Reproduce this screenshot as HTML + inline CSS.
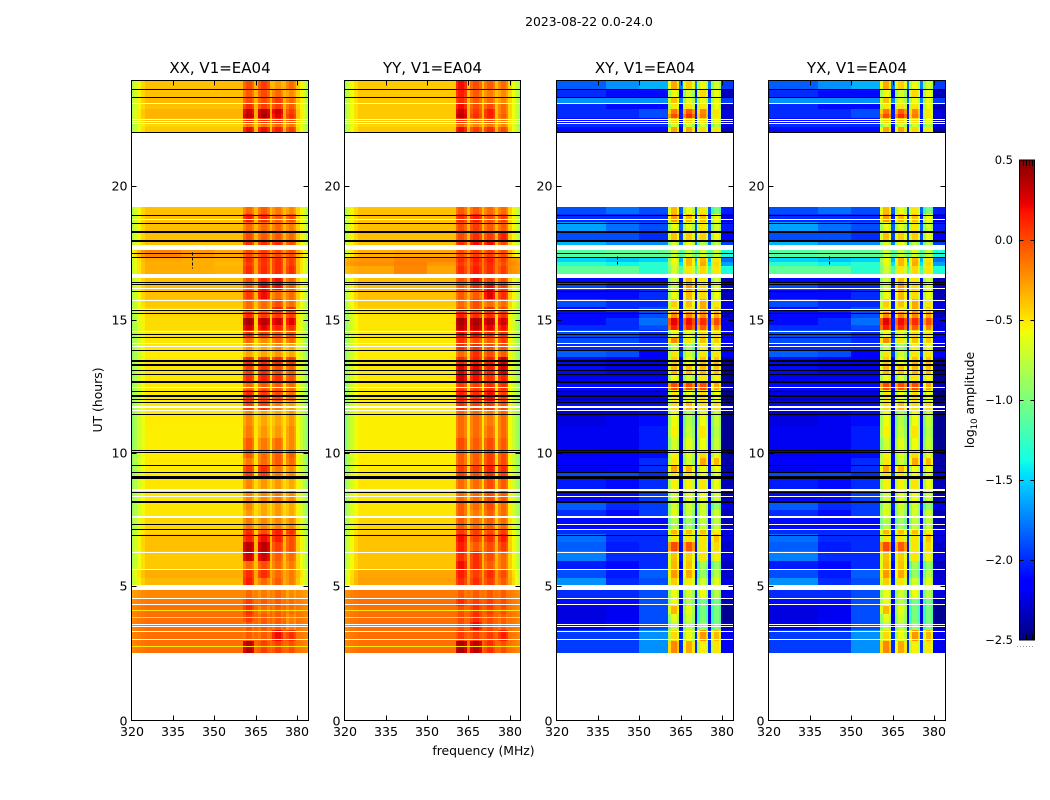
<!DOCTYPE html>
<html>
<head>
<meta charset="utf-8">
<title>2023-08-22 0.0-24.0</title>
<style>
html,body{margin:0;padding:0;background:#fff;width:1050px;height:800px;overflow:hidden}
svg{display:block;font-family:"DejaVu Sans","Liberation Sans",sans-serif}
text{fill:#000}
</style>
</head>
<body>
<svg id="fig" width="1050" height="800" viewBox="0 0 1050 800" xmlns="http://www.w3.org/2000/svg">
<rect x="0" y="0" width="1050" height="800" fill="#fff"/>
<text x="589" y="26" font-size="12.4" text-anchor="middle">2023-08-22 0.0-24.0</text>
<text x="483.5" y="755" font-size="12.4" text-anchor="middle">frequency (MHz)</text>
<text transform="translate(102,400) rotate(-90)" font-size="12.4" text-anchor="middle">UT (hours)</text>
<text transform="translate(974,400) rotate(-90)" font-size="12.4" text-anchor="middle">log<tspan font-size="8.5" dy="3">10</tspan><tspan dy="-3"> amplitude</tspan></text>
</svg>
<script>
// Time-row boundaries in UT hours, top to bottom
const rowEdgesUT = [24,23.7,23.4,23.175,22.95,22.76,22.58,22.39,22.24,22.05,19.24,18.98,18.68,18.3,18,17.78,17.63,17.4,17.21,17.03,16.73,16.61,16.39,16.13,15.79,15.49,15.3,15.08,14.85,14.63,14.4,14.14,13.91,13.65,13.35,13.01,12.68,12.38,12,11.63,11.06,10.61,10.13,9.83,9.56,9.3,9.08,8.63,8.18,7.88,7.61,7.2,6.98,6.68,6.34,6,5.7,5.36,5.1,4.88,4.58,4.28,3.98,3.68,3.38,3,2.55];
// Frequency column boundaries in MHz
const freqEdgesMHz = [320,321,322,323.5,325,338,350,360.4,361.4,363.4,364.4,365.8,366.8,369,370,370.9,371.9,373.9,374.9,375.8,376.8,378.6,379.6,381,382,383,384];
// Which reading of a row each frequency column takes (0-2 low band, 3-6 the four high-frequency patches)
const columnBand = [0,0,0,0,0,1,2,3,3,3,1,4,4,4,1,5,5,5,1,6,6,6,1,1,1,1];
// Log-amplitude shift per column
const parallelColumnShift = [-.42,-.3,-.18,-.07,0,0,0,-.1,0,-.1,.03,-.1,0,-.1,.03,-.1,0,-.1,.03,-.1,0,-.1,-.04,-.18,-.3,-.42];
const crossColumnShift = [0,0,0,0,0,0,0,-.28,0,-.2,-.05,-.28,0,-.2,-.05,-.28,0,-.2,-.05,-.28,0,-.2,-.25,-.25,-.25,-.25];
// log10 amplitude per row: low-left, low-mid, low-right, patch 1-4
const xxValues = [
[-.38,-.38,-.36,0,.05,-.25,-.1],[-.38,-.38,-.38,-.05,0,-.1,-.2],[-.36,-.36,-.36,0,0,.05,-.1],[-.38,-.38,-.38,.1,.05,.05,-.05],[-.34,-.34,-.34,.3,.35,.3,.05],[-.34,-.34,-.34,.35,.4,.25,.1],[-.38,-.38,-.38,.1,.1,.1,0],[-.45,-.45,-.45,-.15,-.15,-.1,-.15],[-.41,-.41,-.41,.2,.2,.15,.05],
null,
[-.38,-.38,-.38,-.1,-.05,-.15,-.2],[-.38,-.38,-.38,.15,.1,-.05,0],[-.38,-.38,-.38,-.1,-.1,-.1,-.15],[-.38,-.38,-.38,0,-.05,-.05,-.1],[-.38,-.38,-.38,.1,.1,.1,0],
null,
[-.18,-.25,-.3,0,.05,0,0],[-.3,-.32,-.34,.1,.1,.1,.05],[-.32,-.32,-.36,.05,.08,.1,.05],[-.32,-.32,-.34,.1,.1,.1,.1],
null,
[-.38,-.38,-.38,0,.15,.2,-.05],[-.38,-.38,-.38,-.05,.2,.2,-.05],[-.38,-.38,-.38,.05,.2,-.1,-.1],[-.41,-.41,-.41,-.1,-.1,0,-.1],[-.45,-.45,-.45,-.1,-.1,.15,.1],[-.45,-.45,-.45,.1,.05,.05,.05],[-.47,-.47,-.47,.4,.35,.3,.25],[-.47,-.47,-.47,.3,.25,.15,.1],[-.5,-.5,-.5,.1,.05,0,0],[-.5,-.5,-.5,-.1,-.2,-.1,-.1],[-.5,-.5,-.5,-.25,-.3,-.2,-.3],[-.52,-.52,-.52,-.3,-.3,-.25,-.3],[-.5,-.5,-.5,.1,.1,.1,.05],[-.5,-.5,-.5,.05,.1,0,-.05],[-.5,-.5,-.5,.1,.15,.1,0],[-.51,-.51,-.51,-.1,-.05,-.05,-.1],[-.51,-.51,-.51,.1,.05,0,-.1],[-.51,-.51,-.51,.05,.05,-.15,-.25],[-.52,-.52,-.52,-.2,-.3,-.3,-.25],[-.53,-.53,-.53,-.15,-.25,-.25,-.2],[-.53,-.53,-.53,-.05,-.15,-.1,-.2],[-.52,-.52,-.52,-.05,-.1,-.05,-.05],[-.51,-.51,-.51,-.15,-.1,-.05,-.1],[-.52,-.52,-.52,.05,.1,-.15,-.2],[-.52,-.52,-.52,.05,.05,-.15,-.2],[-.5,-.5,-.5,-.2,-.25,-.25,-.3],[-.5,-.5,-.5,-.2,-.2,-.15,-.2],[-.5,-.5,-.5,-.2,-.3,-.25,-.3],[-.5,-.5,-.5,-.25,-.3,-.25,-.3],[-.45,-.45,-.45,-.15,-.2,-.2,-.2],[-.45,-.45,-.45,.1,0,.15,.1],[-.38,-.38,-.38,.15,.2,.15,0],[-.38,-.38,-.38,.35,.35,.05,0],[-.41,-.41,-.41,.3,.3,-.05,-.1],[-.41,-.41,-.41,-.1,0,-.1,-.15],[-.32,-.32,-.32,.1,.1,-.1,-.15],[-.36,-.36,-.36,.15,-.1,-.05,-.15],
null,
[-.2,-.2,-.2,-.1,-.15,-.1,-.2],[-.15,-.15,-.15,.05,-.05,-.05,-.1],[-.12,-.12,-.12,.1,-.1,-.05,-.1],[-.12,-.12,-.12,.05,-.05,-.05,-.15],[-.12,-.12,-.12,-.05,-.05,-.05,-.15],[-.12,-.12,-.12,-.05,-.05,.2,.1],[-.12,-.12,-.12,.35,.05,.05,0]
];
const yyValues = [
[-.41,-.41,-.41,.2,0,-.05,-.1],[-.41,-.41,-.41,.15,-.05,-.15,-.2],[-.41,-.41,-.41,.1,-.05,-.1,-.2],[-.41,-.41,-.41,.2,0,0,-.1],[-.41,-.41,-.41,.3,.05,.15,-.1],[-.41,-.41,-.41,.35,.1,.15,-.05],[-.41,-.41,-.41,.1,-.1,0,-.15],[-.45,-.45,-.45,-.1,-.2,-.15,-.2],[-.41,-.41,-.41,.2,.05,.1,0],
null,
[-.38,-.38,-.38,-.05,-.05,-.1,-.1],[-.38,-.38,-.38,.1,.15,0,.05],[-.38,-.38,-.38,0,.05,-.05,-.05],[-.38,-.38,-.38,0,.1,.05,.15],[-.38,-.38,-.38,.1,.2,.2,0],
null,
[-.33,-.3,-.3,0,.05,.05,0],[-.25,-.2,-.2,.1,.15,.15,.05],[-.22,-.18,-.25,.05,.1,.1,0],[-.3,-.2,-.3,.1,.15,.1,.05],
null,
[-.38,-.38,-.38,0,.2,.05,0],[-.38,-.38,-.38,-.05,.1,.2,.05],[-.38,-.38,-.38,-.05,-.05,.25,.1],[-.41,-.41,-.41,-.1,0,-.1,-.1],[-.45,-.45,-.45,-.05,0,.1,0],[-.5,-.5,-.5,.15,.1,.1,.1],[-.5,-.5,-.5,.4,.4,.35,.3],[-.5,-.5,-.5,.35,.35,.25,.2],[-.5,-.5,-.5,.2,.2,.1,.1],[-.51,-.51,-.51,.1,0,-.05,.05],[-.51,-.51,-.51,.1,.1,0,0],[-.52,-.52,-.52,-.1,.1,0,-.05],[-.51,-.51,-.51,.1,.15,.15,.3],[-.51,-.51,-.51,.25,.25,.15,.3],[-.51,-.51,-.51,.3,.2,.1,.15],[-.52,-.52,-.52,.05,.05,.1,.1],[-.52,-.52,-.52,.15,.1,.2,.05],[-.52,-.52,-.52,.1,.05,.05,0],[-.53,-.53,-.53,-.1,-.1,-.15,-.1],[-.53,-.53,-.53,-.1,-.1,-.1,-.1],[-.53,-.53,-.53,0,-.05,0,-.05],[-.52,-.52,-.52,-.05,-.05,.05,0],[-.52,-.52,-.52,-.05,-.05,.05,0],[-.52,-.52,-.52,.05,.05,.15,.1],[-.52,-.52,-.52,.05,0,.1,.05],[-.5,-.5,-.5,-.1,-.1,0,-.05],[-.5,-.5,-.5,-.1,-.1,0,-.05],[-.5,-.5,-.5,-.05,-.1,0,-.1],[-.5,-.5,-.5,-.05,-.15,-.05,-.1],[-.45,-.45,-.45,-.05,-.1,-.05,-.1],[-.43,-.43,-.43,.05,.05,0,.05],[-.39,-.39,-.39,.2,.05,.1,.15],[-.39,-.39,-.39,.15,-.05,0,.05],[-.39,-.39,-.39,.1,.1,0,-.1],[-.39,-.39,-.39,.2,.1,-.05,-.1],[-.3,-.3,-.3,.15,.05,.1,0],[-.28,-.28,-.28,.1,.1,.05,-.05],
null,
[-.15,-.15,-.15,-.05,-.05,-.05,-.05],[-.12,-.12,-.12,.1,.05,.05,0],[-.12,-.12,-.12,0,.1,.05,0],[-.12,-.12,-.12,0,.1,0,-.05],[-.12,-.12,-.12,0,.2,0,-.05],[-.12,-.12,-.12,.05,.05,.05,.15],[-.12,-.12,-.12,.4,.35,.1,0]
];
const xyValues = [
[-1.85,-1.7,-1.6,-.3,-.42,-.58,-.68],[-2,-2.1,-2.1,-.58,-.68,-.46,-.58],[-1.7,-1.7,-1.7,-.38,-.62,-.58,-.58],[-2,-2.1,-2.1,-.5,-.5,-.5,-.58],[-2,-2,-1.9,-.15,-.05,-.2,-.5],[-2,-2,-1.9,0,.1,-.15,-.5],[-2.1,-2.1,-2.1,-.42,-.42,-.46,-.58],[-2,-2,-2,-.68,-.68,-.68,-.78],[-2.1,-2.1,-2.1,-.3,-.3,-.46,-.5],
null,
[-1.9,-1.8,-1.9,-.35,-.58,-.5,-1],[-2,-2,-2,-.25,-.35,-.38,-.58],[-1.65,-1.8,-1.9,-.58,-.62,-.5,-.68],[-1.9,-1.9,-2,-.38,-.42,-.42,-.58],[-1.6,-1.7,-1.7,-.68,-.58,-.78,-.78],
null,
[-1.15,-1.1,-1.1,-.72,-.72,-.68,-.72],[-1.5,-1.55,-1.5,-.58,-.35,-.35,-.5],[-1.3,-1.4,-1.3,-.62,-.35,-.3,-.46],[-1.1,-1.1,-1.3,-.68,-.5,-.46,-.5],
null,
[-2.1,-2.1,-2.1,-.68,-.35,-.5,-.68],[-1.9,-2,-2,-.68,-.25,-.46,-.62],[-2.1,-2.1,-2,-.58,-.35,-.46,-.58],[-1.9,-2,-2,-.42,-.38,-.3,-.5],[-2.1,-2,-1.9,-.5,-.5,-.3,-.42],[-2.1,-2.1,-1.9,-.2,-.2,-.2,-.3],[-2.1,-2,-1.8,.25,.2,.1,0],[-2,-2,-1.9,.15,.1,-.05,-.2],[-1.9,-1.9,-2,-.58,-.58,-.46,-.5],[-1.9,-1.9,-2,-.2,-.5,-.38,-.42],[-2,-2,-2,-.72,-.85,-.54,-.58],[-1.85,-1.9,-2.15,-.5,-.68,-.5,-.5],[-2.1,-2.15,-2.2,-.42,-.58,-.38,-.38],[-2.1,-2.2,-2.2,-.35,-.38,-.35,-.38],[-2.2,-2.2,-2.2,-.58,-.68,-.5,-.54],[-2.1,-2.1,-2.1,0,0,0,-.3],[-2.25,-2.25,-2.25,-.5,-.58,-.46,-.58],[-2.1,-2.1,-2.1,-.46,-.35,-.46,-.46],[-2.25,-2.2,-2.1,-.58,-.78,-.58,-.72],[-2.2,-2.2,-2.05,-.54,-.72,-.5,-.78],[-2.2,-2.2,-2.05,-.68,-.62,-.58,-.72],[-2.2,-2.15,-2.1,-.54,-.62,-.46,-.62],[-2.15,-2.15,-2,-.5,-.68,-.3,-.35],[-2.2,-2.15,-2,-.3,-.35,-.58,-.58],[-1.9,-1.9,-2,-.5,-.5,-.58,-.62],[-2.05,-2.1,-2,-.54,-.54,-.5,-.58],[-2.1,-2.1,-1.95,-.68,-.62,-.58,-.68],[-1.85,-2,-1.95,-.68,-.68,-.68,-.9],[-2,-2.1,-1.95,-.62,-.72,-.68,-.68],[-2.1,-2.1,-2.1,-.78,-.85,-.72,-.72],[-2,-2,-2,-.35,-.38,-.38,-.54],[-1.8,-2,-2,-.5,-.5,-.5,-.38],[-1.85,-2.05,-2,0,-.05,-.5,-.46],[-1.75,-2,-2,-.38,-.42,-.5,-.54],[-2.05,-2.1,-2,-.35,-.38,-.85,-.9],[-1.9,-2.05,-1.85,-.25,-.3,-.9,-.78],[-1.7,-2,-1.9,-.42,-.5,-.68,-.62],
null,
[-2,-2,-1.9,-.58,-.68,-.58,-.78],[-2.1,-2.1,-1.9,-.58,-.78,-1,-1],[-2.25,-2.2,-1.9,-.35,-.62,-1,-1],[-2.25,-2.2,-1.9,-.62,-.68,-1,-1],[-2.2,-2.1,-1.9,-.72,-.78,-.9,-1],[-1.95,-1.95,-1.7,-.46,-.58,-.25,-.35],[-1.95,-1.95,-1.7,-.2,-.3,-.54,-.5]
];
const yxValues = xyValues;
// Flagged (missing) integrations: [UT hours, duration hours]
const whiteFlags = [[23.16,.04],[22.55,.04],[22.47,.04],[22.39,.04],[18.81,.04],[17.84,.05],[16.23,.04],[15.77,.05],[15.45,.05],[14.61,.04],[14.15,.04],[14.04,.04],[12.5,.04],[11.75,.07],[11.63,.04],[8.65,.06],[8.41,.04],[7.62,.07],[6.33,.04],[5.69,.04],[4.58,.04],[4.38,.04],[3.63,.04],[3.54,.04],[3.36,.04],[3.04,.04]];
const blackFlags = [[23.69,.04],[23.4,.04],[22.07,.04],[18.96,.04],[18.66,.04],[18.31,.08],[18,.08],[17.52,.04],[17.4,.04],[16.46,.04],[16.38,.04],[16.11,.04],[15.38,.04],[15.29,.04],[14.49,.04],[14.39,.04],[13.91,.04],[13.5,.08],[13.35,.08],[13.15,.04],[13.01,.04],[12.69,.08],[12.36,.04],[12.16,.06],[12.04,.04],[11.93,.04],[11.51,.04],[10.14,.04],[10.06,.04],[9.57,.04],[9.31,.04],[9.18,.04],[9.1,.06],[8.58,.04],[8.18,.08],[6.96,.04]];
const parallelOnlyBlack = [[7.38,.04],[7.19,.04]];
const crossOnlyWhite = [[7.38,.04],[7.19,.04]];
const parallelBrightRows = [[4.15,.04],[3.89,.04],[2.8,.04]];
const parallelBrightLevel = -0.5;
// Short flagged channel runs: [panel index, MHz, UT start, UT end]
const channelSpikes = [[0,342,16.95,17.55],[2,342,17.1,17.4],[3,342,17.1,17.4]];
// Panels
const panelNames = ['XX, V1=EA04','YY, V1=EA04','XY, V1=EA04','YX, V1=EA04'];
const panelKeys = ['xx','yy','xy','yx'];
const panelValues = [xxValues,yyValues,xyValues,yxValues];
const panelLefts = [131.5,344.5,556.5,768.5];
const panelWidths = [177,176,177,177];
const freqTicks = [320,335,350,365,380];
const utTicks = [0,5,10,15,20];
// Colorbar
const colorbarTicks = [0.5,0,-0.5,-1,-1.5,-2,-2.5];
const colorbarTickLabels = ['0.5','0.0','\u22120.5','\u22121.0','\u22121.5','\u22122.0','\u22122.5'];

const svg = document.getElementById('fig');
const NS = 'http://www.w3.org/2000/svg';
const freqMin = 320, freqMax = 384, utMin = 0, utMax = 24, plotTop = 80.5, plotBottom = 720.5;
const vMin = -2.5, vMax = 0.5;
const yScale = ut => plotBottom - (ut - utMin) / (utMax - utMin) * (plotBottom - plotTop);
const xScale = (p, f) => panelLefts[p] + (f - freqMin) / (freqMax - freqMin) * panelWidths[p];

function seg(t, pts){
  for (let i = 1; i < pts.length; i++) {
    if (t <= pts[i][0]) {
      const a = pts[i-1], b = pts[i];
      return a[1] + (b[1]-a[1]) * (t-a[0]) / (b[0]-a[0]);
    }
  }
  return pts[pts.length-1][1];
}
function jet(v){
  const t = Math.max(0, Math.min(1, (v - vMin) / (vMax - vMin)));
  const r = seg(t, [[0,0],[.35,0],[.66,1],[.89,1],[1,.5]]);
  const g = seg(t, [[0,0],[.125,0],[.375,1],[.64,1],[.91,0],[1,0]]);
  const b = seg(t, [[0,.5],[.11,1],[.34,1],[.65,0],[1,0]]);
  return 'rgb(' + Math.round(r*255) + ',' + Math.round(g*255) + ',' + Math.round(b*255) + ')';
}
function make(tag, parent, attrs){
  const el = document.createElementNS(NS, tag);
  for (const k in attrs) el.setAttribute(k, attrs[k]);
  parent.appendChild(el);
  return el;
}

panelNames.forEach((title, p) => {
  const key = panelKeys[p];
  const values = panelValues[p];
  const parallel = p < 2;
  const shift = parallel ? parallelColumnShift : crossColumnShift;
  const left = panelLefts[p], width = panelWidths[p], right = left + width;

  const group = make('g', svg, {});
  
  

  const heat = make('g', group, {'shape-rendering': 'crispEdges'});
  
  

  values.forEach((row, r) => {
    if (!row) return;
    const y0 = Math.round(yScale(rowEdgesUT[r]));
    const y1 = Math.round(yScale(rowEdgesUT[r+1]));
    for (let c = 0; c < columnBand.length; c++) {
      const fLo = freqEdgesMHz[c], fHi = freqEdgesMHz[c+1];
      const x0 = Math.round(xScale(p, fLo));
      const x1 = Math.round(xScale(p, fHi));
      if (x1 <= x0) continue;
      const edge = parallel && (fHi <= 325 || fLo >= 379.6);
      const bright = row[1] > -0.25;
      const amount = shift[c] * (edge && bright ? 0.2 : 1);
      const cell = make('rect', heat, {x: x0, y: y0, width: x1 - x0, height: y1 - y0, fill: jet(row[columnBand[c]] + amount)});
      
      
    }
  });

  const drawFlags = (list, color, name) => {
    list.forEach(flag => {
      const h = Math.max(1, Math.round(flag[1] / (utMax - utMin) * (plotBottom - plotTop)));
      const line = make('rect', heat, {x: left, y: Math.round(yScale(flag[0])) - Math.floor(h / 2), width: width, height: h, fill: color});
      
      
    });
  };
  if (parallel) drawFlags(parallelBrightRows, jet(parallelBrightLevel), 'bright-row');
  drawFlags(whiteFlags, '#fff', 'white-flag-row');
  drawFlags(blackFlags, '#000', 'black-flag-row');
  if (parallel) drawFlags(parallelOnlyBlack, '#000', 'black-flag-row');
  else drawFlags(crossOnlyWhite, '#fff', 'white-flag-row');

  channelSpikes.filter(s => s[0] === p).forEach(s => {
    const spike = make('line', heat, {x1: Math.round(xScale(p, s[1])) + .5, x2: Math.round(xScale(p, s[1])) + .5, y1: yScale(s[3]), y2: yScale(s[2]), stroke: '#000', 'stroke-dasharray': '3 2'});
    
    
  });

  const frame = make('rect', group, {x: left, y: plotTop, width: width, height: plotBottom - plotTop, fill: 'none', stroke: '#000', 'stroke-width': 1, 'shape-rendering': 'crispEdges'});
  
  

  const heading = make('text', group, {x: left + width / 2, y: 73, 'font-size': 15, 'text-anchor': 'middle'});
  heading.textContent = title;
  
  

  freqTicks.forEach(f => {
    const x = Math.round(xScale(p, f)) + 0.5;
    if (f > freqMin) {
      const b = make('line', group, {x1: x, x2: x, y1: plotBottom, y2: plotBottom - 5, stroke: '#000', 'shape-rendering': 'crispEdges'});
      
      
      const t = make('line', group, {x1: x, x2: x, y1: plotTop, y2: plotTop + 5, stroke: '#000', 'shape-rendering': 'crispEdges'});
      
      
    }
    const label = make('text', group, {x: x - 0.5, y: 736, 'font-size': 12.6, 'text-anchor': 'middle'});
    label.textContent = String(f);
    
    
  });

  utTicks.forEach(u => {
    const y = Math.round(yScale(u)) + (u === 0 ? 0.5 : -0.5);
    if (u > utMin) {
      const a = make('line', group, {x1: left, x2: left + 5, y1: y, y2: y, stroke: '#000', 'shape-rendering': 'crispEdges'});
      
      
      const b = make('line', group, {x1: right, x2: right - 5, y1: y, y2: y, stroke: '#000', 'shape-rendering': 'crispEdges'});
      
      
    }
    const label = make('text', group, {x: left - 4, y: y + 4, 'font-size': 12.6, 'text-anchor': 'end'});
    label.textContent = String(u);
    
    
  });
});

// Colorbar
const cbLeft = 1019.5, cbRight = 1034.5, cbTop = 160, cbBottom = 640;
const cbScale = v => cbBottom - (v - vMin) / (vMax - vMin) * (cbBottom - cbTop);
const cbGroup = make('g', svg, {});


for (let y = cbTop; y < cbBottom; y += 2) {
  const v = vMax - (y + 1 - cbTop) / (cbBottom - cbTop) * (vMax - vMin);
  const band = make('rect', cbGroup, {x: cbLeft, y: y, width: cbRight - cbLeft, height: 2, fill: jet(v), 'shape-rendering': 'crispEdges'});
  
  
}
const cbFrame = make('rect', cbGroup, {x: cbLeft, y: cbTop, width: cbRight - cbLeft, height: cbBottom - cbTop, fill: 'none', stroke: '#000', 'shape-rendering': 'crispEdges'});


colorbarTicks.forEach((v, i) => {
  const y = Math.round(cbScale(v));
  if (v < vMax && v > vMin) {
    const a = make('line', cbGroup, {x1: cbLeft, x2: cbLeft + 4, y1: y + .5, y2: y + .5, stroke: '#000', 'shape-rendering': 'crispEdges'});
    
    
    const b = make('line', cbGroup, {x1: cbRight, x2: cbRight - 4, y1: y + .5, y2: y + .5, stroke: '#000', 'shape-rendering': 'crispEdges'});
    
    
  }
  const label = make('text', cbGroup, {x: 1013, y: y + 4, 'font-size': 11.5, 'text-anchor': 'end'});
  label.textContent = colorbarTickLabels[i];
  
  
});
[1023.5, 1026.5, 1029.5, 1032.5].forEach(x => {
  const t = make('line', cbGroup, {x1: x, x2: x, y1: cbTop, y2: cbTop + 6, stroke: '#000', 'shape-rendering': 'crispEdges'});
  
  
  const b = make('line', cbGroup, {x1: x, x2: x, y1: cbBottom, y2: cbBottom - 6, stroke: '#000', 'shape-rendering': 'crispEdges'});
  
  
});
const cbDots = make('line', cbGroup, {x1: 1017, x2: 1035, y1: 646.5, y2: 646.5, stroke: '#999', 'stroke-dasharray': '1 2', 'shape-rendering': 'crispEdges'});


</script>
</body>
</html>
